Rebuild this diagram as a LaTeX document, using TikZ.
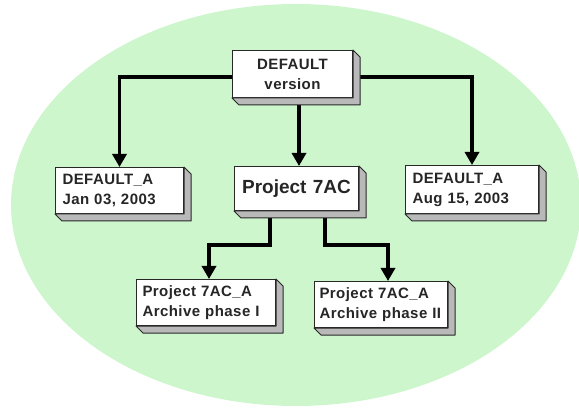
\documentclass[tikz,border=0pt]{standalone}
\usepackage{fontspec}
\setmainfont{Liberation Sans}
\newfontfamily\boxfont[LetterSpace=3]{Liberation Sans}
\usetikzlibrary{arrows.meta}
\definecolor{bgreen}{RGB}{206,246,204}
\definecolor{shadegray}{RGB}{185,185,185}
\definecolor{edgegray}{RGB}{40,40,40}
\pgfdeclarelayer{bg}
\pgfdeclarelayer{lines}
\pgfsetlayers{bg,lines,main}
\newcommand\boxshade[1]{%
  \filldraw[shadest] (#1.north east) -- ++(7,7) -- ([shift={(7,7)}]#1.south east)
    -- ([shift={(7,7)}]#1.south west) -- (#1.south west) -- (#1.south east) -- cycle;}
\begin{document}
\begin{tikzpicture}[x=1pt,y=-1pt,
  vbox/.style={draw=edgegray, line width=1pt, fill=white, anchor=north west,
    inner xsep=7pt, inner ysep=0pt, font=\boxfont\bfseries\fontsize{15}{20}\selectfont,
    text=black!85},
  shadest/.style={fill=shadegray, draw=edgegray, line width=1pt, line join=round},
  conn/.style={line width=3.4pt, -{Triangle[width=14pt,length=13pt]}}]
\useasboundingbox (0,0) rectangle (579,409);
\begin{pgfonlayer}{bg}
  \fill[bgreen] (296,205) ellipse [x radius=285, y radius=201];
\end{pgfonlayer}

\node[vbox, align=center, text width=106, minimum height=47] (top) at (232,50) {DEFAULT\\version};
\boxshade{top}
\node[vbox, align=left, text width=114, minimum height=46] (jan) at (55,167) {DEFAULT\_A\\Jan 03, 2003};
\boxshade{jan}
\node[vbox, align=center, text width=110, minimum height=44, font=\bfseries\fontsize{19}{22}\selectfont] (p7) at (234,166) {Project 7AC};
\boxshade{p7}
\node[vbox, align=left, text width=119, minimum height=48] (aug) at (405,165) {DEFAULT\_A\\Aug 15, 2003};
\boxshade{aug}
\node[vbox, align=left, inner xsep=6pt, text width=127, minimum height=46] (ph1) at (136,279) {Project 7AC\_A\\Archive phase I};
\boxshade{ph1}
\node[vbox, align=left, inner xsep=5pt, text width=123, minimum height=46] (ph2) at (314,281) {Project 7AC\_A\\Archive phase II};
\boxshade{ph2}

\coordinate (j1) at (270,245);
\coordinate (k1) at (209,245);
\coordinate (j2) at (325,245);
\coordinate (k2) at (388,245);
\coordinate (tc) at (299,77);

\begin{pgfonlayer}{lines}
  \draw[conn] (top.west |- tc) -| (jan.north);
  \draw[conn] (top.east |- tc) -| (aug.north);
  \draw[conn] (top.south -| tc) -- (p7.north -| tc);
  \draw[conn] (p7.south -| j1) -- (j1) -- (k1) -- (k1 |- ph1.north);
  \draw[conn] (p7.south -| j2) -- (j2) -- (k2) -- (k2 |- ph2.north);
\end{pgfonlayer}
\end{tikzpicture}
\end{document}
